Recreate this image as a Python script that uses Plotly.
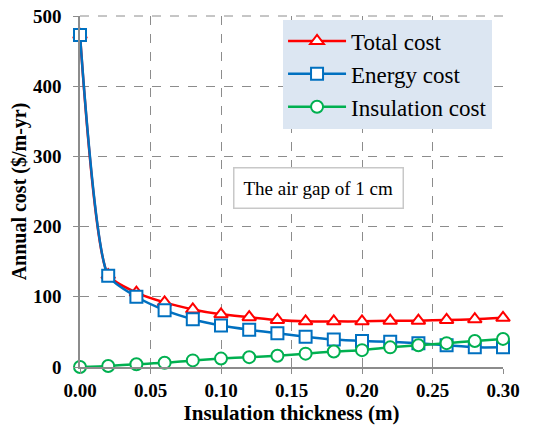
import plotly.graph_objects as go

# insulation thickness (m)
thickness = [0.00, 0.02, 0.04, 0.06, 0.08, 0.10, 0.12, 0.14,
             0.16, 0.18, 0.20, 0.22, 0.24, 0.26, 0.28, 0.30]

# annual costs ($/m-yr)
total_cost      = [473, 131, 106, 92, 82, 75, 71, 67, 65, 65, 65, 66, 66, 67, 68, 70]
energy_cost     = [473, 130, 100, 81, 68, 59, 53, 48, 43, 39, 37, 36, 34, 31, 28, 28]
insulation_cost = [0, 1.5, 4, 6, 9.4, 12, 14, 16, 19, 22, 24, 28, 31, 34, 37, 40]

x_ticks = [0.00, 0.05, 0.10, 0.15, 0.20, 0.25, 0.30]
y_ticks = [0, 100, 200, 300, 400, 500]

SERIF = "Liberation Serif, Times New Roman, serif"
GRID = "#8c8c8c"

series = [
    ("Total cost",      total_cost,      "#ff0000", "triangle-up"),
    ("Energy cost",     energy_cost,     "#0070c0", "square"),
    ("Insulation cost", insulation_cost, "#00b050", "circle"),
]

fig = go.Figure()
for name, vals, color, symbol in series:
    fig.add_trace(go.Scatter(
        x=thickness, y=vals, name=name,
        mode="lines+markers",
        line=dict(color=color, width=2.5, shape="spline", smoothing=0.6),
        marker=dict(symbol=symbol, size=12, color="white",
                    line=dict(color=color, width=2)),
        cliponaxis=False,
    ))

axis_common = dict(
    showline=True, linecolor=GRID, linewidth=1.5,
    showgrid=True, gridcolor=GRID, griddash="dash", gridwidth=1,
    ticks="outside", ticklen=5, tickcolor=GRID,
    tickfont=dict(family=SERIF, size=19, color="black", weight="bold"),
    ticklabeloverflow="allow",
    zeroline=False,
)

fig.update_xaxes(
    range=[0, 0.30], tickvals=x_ticks, tickformat=".2f",
    title=dict(text="Insulation thickness (m)", standoff=2,
               font=dict(family=SERIF, size=21, color="black", weight="bold")),
    **axis_common,
)
fig.update_yaxes(
    range=[0, 500], tickvals=y_ticks, ticklabelstandoff=8,
    title=dict(text="Annual cost ($/m-yr)", standoff=4,
               font=dict(family=SERIF, size=20, color="black", weight="bold")),
    **axis_common,
)

# dashed frame line along the top of the plot area (top grid line)
fig.add_shape(type="line", xref="paper", yref="paper", x0=0, x1=1, y0=1, y1=1,
              line=dict(color=GRID, width=1, dash="dash"), layer="below")

fig.add_annotation(
    text="The air gap of 1 cm", xref="paper", yref="paper",
    x=0.563, y=0.51, xanchor="center", yanchor="middle", showarrow=False,
    font=dict(family=SERIF, size=19, color="black"),
    bgcolor="white", bordercolor="#c8c8c8", borderwidth=1.5, borderpad=9,
)

# the page body adds an 8 px margin, so the figure is sized 8 px smaller
fig.update_layout(
    width=538, height=420,
    margin=dict(l=72, r=43, t=8, b=61, autoexpand=False),
    paper_bgcolor="white", plot_bgcolor="white",
    legend=dict(
        x=0.48, y=0.99, xanchor="left", yanchor="top",
        bgcolor="#dce6f2", borderwidth=0,
        font=dict(family=SERIF, size=23, color="black"),
        itemwidth=58, tracegroupgap=0,
    ),
    showlegend=True,
)

fig.write_html("out.html")
